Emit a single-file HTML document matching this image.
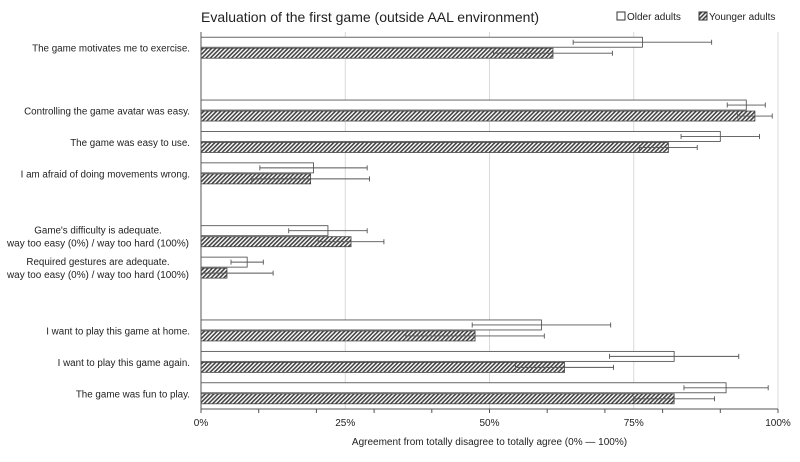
<!DOCTYPE html>
<html><head><meta charset="utf-8"><style>
body{margin:0;background:#fff;}
svg{font-family:"Liberation Sans",sans-serif;}
</style></head><body>
<svg id="chart" width="800" height="457">
<defs>
<pattern id="hatch" patternUnits="userSpaceOnUse" width="3" height="3" patternTransform="rotate(45)">
<rect width="3" height="3" fill="#fff"/><rect width="1.6" height="3" fill="#444"/>
</pattern>
</defs>
<text x="201" y="22" font-size="14" fill="#222">Evaluation of the first game (outside AAL environment)</text>
<g>
<rect x="617" y="12" width="8" height="8" fill="#fff" stroke="#333"/>
<text x="627" y="20" font-size="10" fill="#222">Older adults</text>
<rect x="699" y="12" width="8" height="8" fill="url(#hatch)" stroke="#333"/>
<text x="709" y="20" font-size="10" fill="#222">Younger adults</text>
</g>
<g id="plot"></g>
</svg>
<script>
const categories=["The game motivates me to exercise.","","Controlling the game avatar was easy.","The game was easy to use.","I am afraid of doing movements wrong.","","Game's difficulty is adequate.|way too easy (0%) / way too hard (100%)","Required gestures are adequate.|way too easy (0%) / way too hard (100%)","","I want to play this game at home.","I want to play this game again.","The game was fun to play."];
const olderValues=[76.5,null,94.5,90,19.5,null,22,8,null,59,82,91];
const olderErr=[12,null,3.3,6.8,9.3,null,6.8,2.8,null,12,11.2,7.3];
const youngerValues=[61,null,96,81,19,null,26,4.5,null,47.5,63,82];
const youngerErr=[10.3,null,3,5,10.2,null,5.7,8,null,12,8.5,7];
const tickLabels=["0%","25%","50%","75%","100%"];
const tickValues=[0,25,50,75,100];

const NS="http://www.w3.org/2000/svg";
const plotG=document.getElementById('plot');
const x0=201,x1=778,yTop=32,yBottom=409;
const xs=v=>x0+(x1-x0)*v/100;
const slot=(yBottom-yTop)/categories.length;
function mk(t,a){const e=document.createElementNS(NS,t);for(const k in a)e.setAttribute(k,a[k]);plotG.appendChild(e);return e;}
tickValues.forEach((v,i)=>{
  if(v>0){const l=mk('line',{x1:xs(v),x2:xs(v),y1:yTop,y2:yBottom,stroke:'#d9d9d9','stroke-width':1});
  
  }
  const t=mk('text',{x:xs(v),y:yBottom+17,'font-size':10,'text-anchor':'middle',fill:'#222'});
  t.textContent=tickLabels[i];
  
  
});
for(let v=0;v<=100;v+=10){const l=mk('line',{x1:xs(v),x2:xs(v),y1:yBottom,y2:yBottom+4,stroke:'#555'});

}
categories.forEach((c,i)=>{
  if(olderValues[i]==null)return;
  const cy=yTop+slot*(i+0.5);
  const parts=c.split('|');
  parts.forEach((p,j)=>{
    const a={x:parts.length>1?98:190,y:cy+4+(j-(parts.length-1)/2)*13,'font-size':9.8,'text-anchor':parts.length>1?'middle':'end',fill:'#222'};
    if(parts.length>1&&j==1){a.textLength=182;a.lengthAdjust='spacingAndGlyphs';}
    const t=mk('text',a);
    t.textContent=p;
    
    
  });
  const bh=10;
  [[olderValues,olderErr,'#fff','older'],[youngerValues,youngerErr,'url(#hatch)','younger']].forEach(([vals,errs,fill,nm],k)=>{
    const y=cy-bh+k*bh+(k?0.5:-0.5);
    const r=mk('rect',{x:xs(0),y:y,width:xs(vals[i])-xs(0),height:bh,fill:fill,stroke:'#444','stroke-width':0.8});
    
    
    const ey=y+bh/2,lo=Math.max(0,vals[i]-errs[i]),hi=Math.min(100,vals[i]+errs[i]);
    const e=mk('path',{d:`M${xs(lo)},${ey}H${xs(hi)}M${xs(lo)},${ey-2.5}v5M${xs(hi)},${ey-2.5}v5`,stroke:'#555',fill:'none','stroke-width':0.9});
    
    
  });
});
const ax=mk('line',{x1:x0,x2:x1,y1:yBottom,y2:yBottom,stroke:'#555'});


const ay=mk('line',{x1:x0,x2:x0,y1:yTop,y2:yBottom,stroke:'#555'});


const xt=mk('text',{x:(x0+x1)/2,y:yBottom+36,'font-size':10,'text-anchor':'middle',fill:'#222'});
xt.textContent='Agreement from totally disagree to totally agree (0% — 100%)';


</script>
</body></html>
